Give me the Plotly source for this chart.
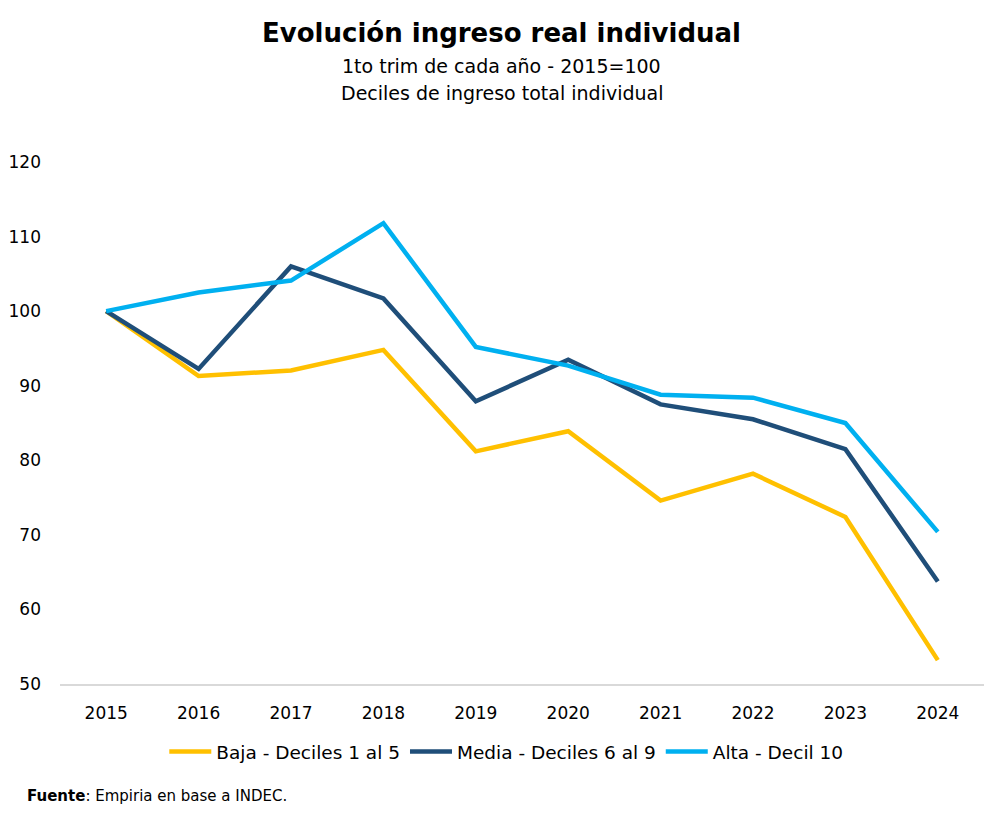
import plotly.graph_objects as go

years = ["2015", "2016", "2017", "2018", "2019", "2020", "2021", "2022", "2023", "2024"]
baja = [100, 91.3, 92.05, 94.8, 81.2, 83.9, 74.6, 78.2, 72.4, 53.2]
media = [100, 92.25, 106.0, 101.7, 87.9, 93.5, 87.5, 85.5, 81.5, 63.75]
alta = [100, 102.5, 104.1, 111.8, 95.2, 92.7, 88.8, 88.4, 85.0, 70.4]
y_ticks = [50, 60, 70, 80, 90, 100, 110, 120]

FONT = "DejaVu Sans"

fig = go.Figure()
for name, vals, col in [
    ("Baja - Deciles 1 al 5", baja, "#FFC000"),
    ("Media - Deciles 6 al 9", media, "#1F4E79"),
    ("Alta - Decil 10", alta, "#00B0F0"),
]:
    fig.add_trace(go.Scatter(x=years, y=vals, mode="lines", name=name,
                             line=dict(color=col, width=4.5)))

fig.update_layout(
    width=988, height=805,
    paper_bgcolor="white", plot_bgcolor="white",
    margin=dict(l=52, r=12, t=154, b=129, autoexpand=False),
    font=dict(family=FONT, size=17, color="black"),
    showlegend=True,
    legend=dict(orientation="h", x=0.483, xanchor="center", y=-0.13, yanchor="middle",
                font=dict(family=FONT, size=18.5, color="black"), itemwidth=42,
                traceorder="normal"),
    xaxis=dict(type="category", range=[-0.5, 9.5], showgrid=False, showline=True,
               linecolor="#D9D9D9", linewidth=1.5, ticks="", ticklabelstandoff=13,
               automargin=False, tickfont=dict(size=17)),
    yaxis=dict(range=[50, 120], tickvals=y_ticks, showgrid=False, zeroline=False,
               showline=False, ticks="", ticklabelstandoff=18, automargin=False,
               tickfont=dict(size=17)),
)

fig.add_annotation(text="<b>Evolución ingreso real individual</b>", xref="paper", yref="paper",
                   x=0.478, y=1.247, xanchor="center", yanchor="middle", showarrow=False,
                   font=dict(family=FONT, size=26, color="black"))
fig.add_annotation(text="1to trim de cada año - 2015=100", xref="paper", yref="paper",
                   x=0.478, y=1.184, xanchor="center", yanchor="middle", showarrow=False,
                   font=dict(family=FONT, size=19, color="black"))
fig.add_annotation(text="Deciles de ingreso total individual", xref="paper", yref="paper",
                   x=0.478, y=1.132, xanchor="center", yanchor="middle", showarrow=False,
                   font=dict(family=FONT, size=19, color="black"))
fig.add_annotation(text="<b>Fuente</b>: Empiria en base a INDEC.", xref="paper", yref="paper",
                   x=-0.038, y=-0.2146, xanchor="left", yanchor="middle", showarrow=False,
                   font=dict(family=FONT, size=15, color="black"))

fig.write_html("out.html")
